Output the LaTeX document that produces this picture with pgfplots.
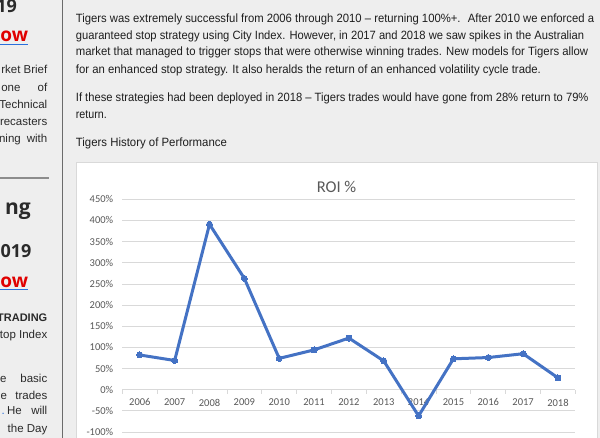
\documentclass[border=0pt]{standalone}
\usepackage{pgfplots}
\pgfplotsset{compat=1.18}
\usepackage{fontspec}
\usepackage{graphicx}
\setmainfont{Liberation Sans}
\newfontfamily\carlito{Carlito}
\newfontfamily\osans{Open Sans}
\definecolor{pagebg}{HTML}{EEEEEE}
\definecolor{txt}{HTML}{1E1E1E}
\definecolor{side}{HTML}{2A2A2A}
\definecolor{gridc}{HTML}{D9D9D9}
\definecolor{lblc}{HTML}{595959}
\definecolor{serie}{HTML}{4472C4}
\definecolor{redlink}{HTML}{E00000}
\definecolor{bluelink}{HTML}{2A6FDB}
\newcommand{\fitline}[4]{\node[anchor=base west,inner sep=0pt,text=txt,font=\fontsize{12}{14}\selectfont] at (#1,#2) {\resizebox{#3pt}{\height}{#4}};}
\newcommand{\sw}[3]{\node[anchor=base east,inner sep=0pt,text=side,font=\fontsize{11.5}{14}\selectfont] at (#1,#2) {#3};}
\begin{document}
\begin{tikzpicture}
\clip (0pt,0pt) rectangle (600pt,438pt);
\begin{scope}[x=1pt,y=1pt]
\fill[pagebg] (0,0) rectangle (600,438);
% sidebar
\draw[color=black!58, line width=1.6pt] (62.3,-5) -- (62.3,445);
\node[anchor=base east,inner sep=0pt,text=side,font=\osans\bfseries\fontsize{18}{20}\selectfont] at (17,425.7) {19};
\node[anchor=base east,inner sep=0pt,text=redlink,font=\osans\bfseries\fontsize{19}{21}\selectfont] at (28.3,396) {ow};
\draw[bluelink, line width=1pt] (0,393.5) -- (28.3,393.5);
\sw{47.5}{364}{rket Brief}
\sw{20.7}{346.7}{one}\sw{47.5}{346.7}{of}
\sw{47.5}{329.5}{Technical}
\sw{47.5}{312.3}{recasters}
\sw{21}{295}{ning}\sw{47.5}{295}{with}
\draw[color=black!45, line width=1.4pt] (-2,260) -- (49.3,260);
\node[anchor=base east,inner sep=0pt,text=side,font=\osans\bfseries\fontsize{21}{23}\selectfont] at (31,223) {ng};
\node[anchor=base east,inner sep=0pt,text=side,font=\osans\bfseries\fontsize{18}{20}\selectfont] at (31.7,180) {019};
\node[anchor=base east,inner sep=0pt,text=redlink,font=\osans\bfseries\fontsize{19}{21}\selectfont] at (28.3,150.7) {ow};
\draw[bluelink, line width=1pt] (0,148.2) -- (28.3,148.2);
\node[anchor=base east,inner sep=0pt,text=side,font=\bfseries\fontsize{11}{14}\selectfont] at (47.5,116.3) {TRADING};
\sw{47.5}{99.7}{top Index}
\sw{6.7}{55.3}{ne}\sw{47.5}{55.3}{basic}
\sw{7.3}{38.7}{he}\sw{47.5}{38.7}{trades}
\node[anchor=base east,inner sep=0pt,text=bluelink,font=\fontsize{11.5}{14}\selectfont] at (5,23) {.};
\sw{22}{23}{He}\sw{47.5}{23}{will}
\sw{47.5}{5.3}{the Day}
% main text
\fitline{75.7}{415.3}{518.3}{Tigers was extremely successful from 2006 through 2010 – returning 100\%+.~ After 2010 we enforced a}
\fitline{75.7}{398.7}{508.3}{guaranteed stop strategy using City Index. However, in 2017 and 2018 we saw spikes in the Australian}
\fitline{75.7}{382}{512.3}{market that managed to trigger stops that were otherwise winning trades. New models for Tigers allow}
\fitline{75.7}{364.7}{465}{for an enhanced stop strategy. It also heralds the return of an enhanced volatility cycle trade.}
\fitline{75.7}{336.3}{512.6}{If these strategies had been deployed in 2018 – Tigers trades would have gone from 28\% return to 79\%}
\fitline{75.7}{319.7}{31}{return.}
\fitline{75.7}{291.3}{151}{Tigers History of Performance}
% chart box
\filldraw[fill=white, draw=gridc, line width=0.8pt] (76,-10) rectangle (597.3,275.7);
\node[anchor=base, inner sep=0pt, text=lblc, font=\carlito\fontsize{16.5}{18}\selectfont] at (336.5,245) {ROI \%};
\end{scope}
\begin{axis}[
  at={(122.4pt,6pt)}, anchor=south west,
  scale only axis, width=453pt, height=232.7pt,
  xmin=2005.5, xmax=2018.5, ymin=-100, ymax=450,
  axis x line*=middle, axis y line*=left,
  hide obscured x ticks=false, hide obscured y ticks=false,
  x axis line style={-, draw=gridc, line width=0.8pt},
  y axis line style={draw=none},
  xtick={2006,2007,2008,2009,2010,2011,2012,2013,2014,2015,2016,2017,2018},
  xticklabels={2006,2007,2008,2009,2010,2011,2012,2013,2014,2015,2016,2017,2018},
  minor xtick={2005.5,2006.5,2007.5,2008.5,2009.5,2010.5,2011.5,2012.5,2013.5,2014.5,2015.5,2016.5,2017.5,2018.5},
  tick align=outside,
  major tick length=0pt, minor tick length=4pt,
  minor x tick style={draw=gridc, line width=0.8pt},
  ytick={-100,-50,0,50,100,150,200,250,300,350,400,450},
  yticklabels={-100\%,-50\%,0\%,50\%,100\%,150\%,200\%,250\%,300\%,350\%,400\%,450\%},
  ytick style={draw=none},
  ymajorgrids, grid style={draw=gridc, line width=0.8pt},
  xticklabel style={font=\carlito\fontsize{10.5}{12}\selectfont, text=lblc, inner sep=0pt, yshift=-9pt},
  yticklabel style={font=\carlito\fontsize{10.5}{12}\selectfont, text=lblc, inner sep=0pt, xshift=-9pt},
  clip=false,
]
\addplot[serie, line width=3pt, line join=round, mark=*, mark size=3pt,
  mark options={solid, fill=serie, draw=serie, line width=0pt}]
  coordinates {(2006,82) (2007,69) (2008,391) (2009,263) (2010,74) (2011,94) (2012,122)
  (2013,68) (2014,-62) (2015,73) (2016,76) (2017,85) (2018,28)};
\end{axis}
\end{tikzpicture}
\end{document}
